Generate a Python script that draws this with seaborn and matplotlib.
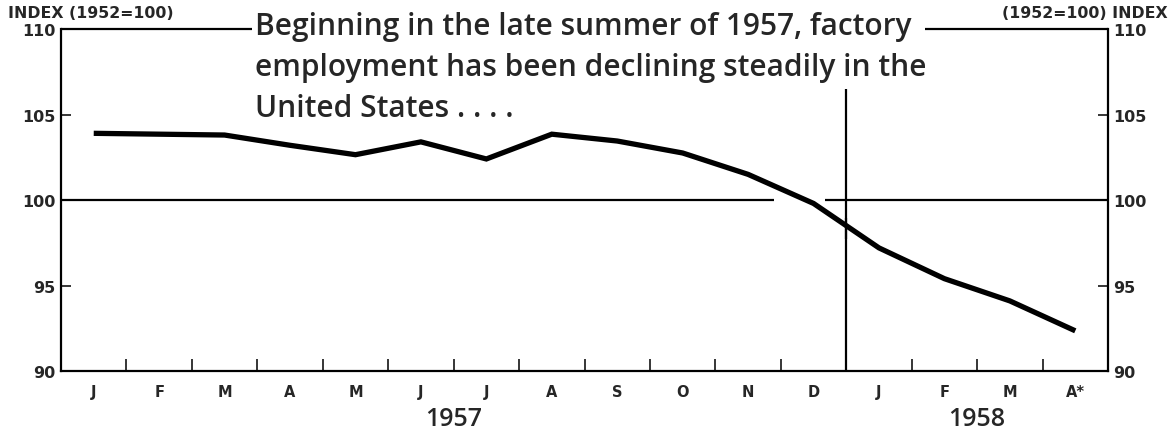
import matplotlib
matplotlib.use("Agg")
import matplotlib.pyplot as plt
import seaborn as sns
import pandas as pd

# ---- Data (index, 1952=100) ----
months_1957 = ["J", "F", "M", "A", "M", "J", "J", "A", "S", "O", "N", "D"]
months_1958 = ["J", "F", "M", "A*"]
index_1957 = [103.9, 103.85, 103.8, 103.2, 102.65, 103.4, 102.4, 103.85, 103.45, 102.75, 101.5, 99.8]
index_1958 = [97.2, 95.4, 94.1, 92.35]
years = ["1957", "1958"]
y_ticks = [90, 95, 100, 105, 110]
headline = ["Beginning in the late summer of 1957, factory",
            "employment has been declining steadily in the",
            "United States . . . ."]

month_labels = months_1957 + months_1958
df = pd.DataFrame({"pos": range(len(month_labels)),
                   "index": index_1957 + index_1958})

sns.set_style("white")
plt.rcParams["font.family"] = ["DejaVu Sans"]

fig = plt.figure(figsize=(11.71, 4.35), dpi=100)
ax = fig.add_axes([0.0521, 0.1448, 0.8941, 0.7862])

n = len(month_labels)
break_x = len(months_1957) - 0.5

# base line at 100, broken where the curve passes through
ax.hlines(100, -0.5, 10.39, color="black", lw=1.6)
ax.hlines(100, 11.18, n - 0.5, color="black", lw=1.6)
# year divider, broken around the curve
ax.vlines(break_x, 90, 98.95, color="black", lw=1.6)
ax.vlines(break_x, 97.7, 106.5, color="black", lw=1.6)

sns.lineplot(data=df, x="pos", y="index", ax=ax, color="black", lw=3.8,
             solid_joinstyle="miter", solid_capstyle="butt")

ax.set_xlim(-0.5, n - 0.5)
ax.set_ylim(90, 110)
ax.set_xlabel("")
ax.set_ylabel("")

# frame: top edge only partly drawn (headline sits in the gap)
for side in ["left", "right", "bottom"]:
    ax.spines[side].set_visible(True)
    ax.spines[side].set_linewidth(1.6)
    ax.spines[side].set_color("black")
ax.spines["top"].set_visible(False)
ax.hlines(110, -0.5, 2.42, color="black", lw=1.6, clip_on=False)
ax.hlines(110, 12.71, n - 0.5, color="black", lw=1.6, clip_on=False)

# month boundaries as inward ticks, month letters at centres
ax.set_xticks([i + 0.5 for i in range(n - 1)])
ax.set_xticklabels([])
ax.set_xticks(range(n), minor=True)
ax.set_xticklabels(month_labels, minor=True, fontweight="bold", fontsize=10.5)
ax.tick_params(axis="x", which="major", direction="in", length=9, width=1.3,
               bottom=True, top=False)
ax.tick_params(axis="x", which="minor", length=0, pad=9)

ax.set_yticks(y_ticks)
ax.set_yticklabels([str(v) for v in y_ticks], fontweight="bold", fontsize=11.5)
ax.tick_params(axis="y", direction="in", length=7, width=1.3,
               left=True, right=True, labelleft=True, labelright=True, pad=4)

# year labels under the month letters
ax.text((-0.5 + break_x) / 2, -0.14, years[0], transform=ax.get_xaxis_transform(),
        ha="center", va="center", fontsize=18, fontweight="semibold",
        family="Open Sans")
ax.text((break_x + n - 0.5) / 2, -0.14, years[1], transform=ax.get_xaxis_transform(),
        ha="center", va="center", fontsize=18, fontweight="semibold",
        family="Open Sans")

# axis captions
fig.text(0.007, 0.97, "INDEX (1952=100)", ha="left", va="center",
         fontsize=11.3, fontweight="bold")
fig.text(0.997, 0.97, "(1952=100) INDEX", ha="right", va="center",
         fontsize=11.3, fontweight="bold")

# headline
for k, line in enumerate(headline):
    fig.text(255 / 1171, 1 - (35 + 41 * k) / 435, line, ha="left", va="baseline",
             fontsize=21.5, fontweight="semibold", family="Open Sans")

fig.savefig("out.png", dpi=100)
